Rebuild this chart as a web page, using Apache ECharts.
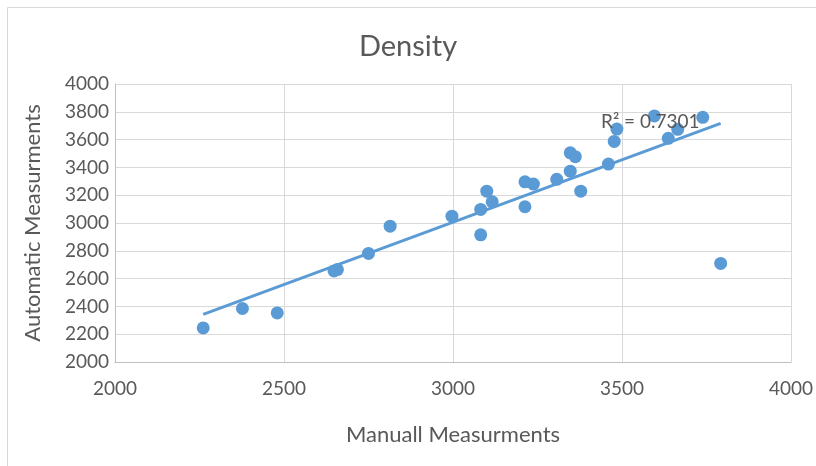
<!DOCTYPE html>
<html>
<head>
<meta charset="utf-8">
<script src="https://cdn.jsdelivr.net/npm/echarts@6/dist/echarts.min.js"></script>
<style>
  html, body { margin: 0; padding: 0; background: #fff; }
  #chart { width: 816px; height: 466px; }
</style>
</head>
<body>
<div id="chart"></div>
<script>
// Manual vs automatic density measurements
const manual = [2261, 2377, 2480, 2648, 2658, 2750, 2814, 2997, 3082, 3082,
                3100, 3116, 3213, 3238, 3213, 3307, 3347, 3362, 3347, 3378,
                3460, 3477, 3485, 3596, 3637, 3665, 3739, 3792];
const automatic = [2245, 2385, 2353, 2655, 2665, 2781, 2977, 3049, 3098, 2915,
                   3229, 3152, 3296, 3280, 3117, 3314, 3505, 3477, 3373, 3229,
                   3424, 3587, 3676, 3770, 3609, 3674, 3760, 2709];
const rSquaredText = 'R² = 0.7301';

const points = manual.map((x, i) => [x, automatic[i]]);

// Least-squares linear trend across the range of the manual values
const n = manual.length;
const mx = manual.reduce((a, b) => a + b, 0) / n;
const my = automatic.reduce((a, b) => a + b, 0) / n;
let sxy = 0, sxx = 0;
for (let i = 0; i < n; i++) {
  sxy += (manual[i] - mx) * (automatic[i] - my);
  sxx += (manual[i] - mx) * (manual[i] - mx);
}
const slope = sxy / sxx;
const intercept = my - slope * mx;
const xMin = Math.min(...manual), xMax = Math.max(...manual);
const trend = [[xMin, intercept + slope * xMin], [xMax, intercept + slope * xMax]];

const FONT = 'Lato, "Open Sans", sans-serif';
const TEXT = '#595959';
const BLUE = '#5b9bd5';
const GRID = '#d9d9d9';
const plain = v => String(v);

const chart = echarts.init(document.getElementById('chart'), null, { renderer: 'canvas' });
chart.setOption({
  animation: false,
  backgroundColor: '#fff',
  title: {
    text: 'Density',
    left: 'center',
    top: 27,
    textStyle: { fontFamily: FONT, fontSize: 29, fontWeight: 'normal', color: TEXT }
  },
  grid: { left: 115, right: 25, top: 84, bottom: 104 },
  xAxis: {
    type: 'value',
    min: 2000, max: 4000, interval: 500,
    name: 'Manuall Measurments',
    nameLocation: 'middle',
    nameGap: 62,
    nameTextStyle: { fontFamily: FONT, fontSize: 22, color: TEXT },
    axisLine: { show: true, lineStyle: { color: '#bfbfbf', width: 1 } },
    axisTick: { show: false },
    axisLabel: { fontFamily: FONT, fontSize: 19, color: TEXT, margin: 17, formatter: plain },
    splitLine: { show: true, lineStyle: { color: GRID, width: 1 } }
  },
  yAxis: {
    type: 'value',
    min: 2000, max: 4000, interval: 200,
    name: 'Automatic Measurments',
    nameLocation: 'middle',
    nameGap: 71,
    nameTextStyle: { fontFamily: FONT, fontSize: 22, color: TEXT },
    axisLine: { show: true, lineStyle: { color: '#bfbfbf', width: 1 } },
    axisTick: { show: false },
    axisLabel: { fontFamily: FONT, fontSize: 19, color: TEXT, margin: 6, formatter: plain },
    splitLine: { show: true, lineStyle: { color: GRID, width: 1 } }
  },
  series: [
    {
      name: 'Density',
      type: 'scatter',
      data: points,
      symbol: 'circle',
      symbolSize: 13,
      itemStyle: { color: BLUE, opacity: 1 },
      z: 3
    },
    {
      name: 'Linear trend',
      type: 'line',
      data: trend,
      showSymbol: false,
      lineStyle: { color: BLUE, width: 3 },
      z: 4
    }
  ],
  graphic: [
    {
      type: 'rect',
      shape: { x: 7.5, y: 7.5, width: 900, height: 600 },
      style: { fill: 'none', stroke: GRID, lineWidth: 1 },
      silent: true,
      z: -10
    },
    {
      type: 'text',
      left: 601,
      top: 112,
      style: { text: rSquaredText, fontFamily: FONT, fontSize: 19, fill: TEXT },
      z: 100
    }
  ]
});
</script>
</body>
</html>
